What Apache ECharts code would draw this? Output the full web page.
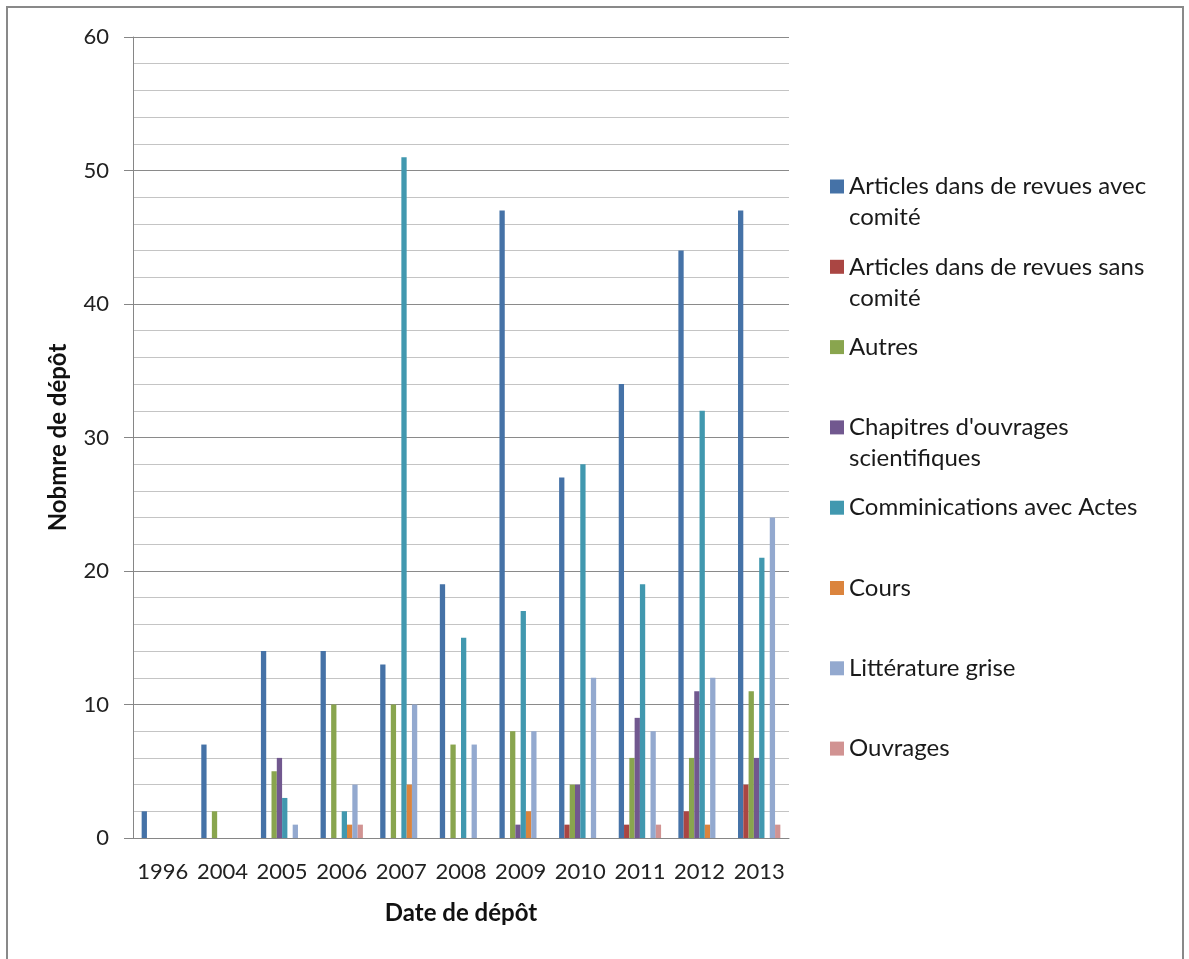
<!DOCTYPE html>
<html>
<head>
<meta charset="utf-8">
<script src="https://cdn.jsdelivr.net/npm/echarts@6/dist/echarts.min.js"></script>
<style>
  html, body { margin: 0; padding: 0; background: #fff; }
  #chart { width: 1189px; height: 959px; }
</style>
</head>
<body>
<div id="chart"></div>
<script>
// années de dépôt
var years = ['1996', '2004', '2005', '2006', '2007', '2008', '2009', '2010', '2011', '2012', '2013'];

// nombre de dépôts par type
var articlesAvecComite = [2, 7, 14, 14, 13, 19, 47, 27, 34, 44, 47];
var articlesSansComite = [0, 0, 0, 0, 0, 0, 0, 1, 1, 2, 4];
var autres            = [0, 2, 5, 10, 10, 7, 8, 4, 6, 6, 11];
var chapitres         = [0, 0, 6, 0, 0, 0, 1, 4, 9, 11, 6];
var communications    = [0, 0, 3, 2, 51, 15, 17, 28, 19, 32, 21];
var cours             = [0, 0, 0, 1, 4, 0, 2, 0, 0, 1, 0];
var litteratureGrise  = [0, 0, 1, 4, 10, 7, 8, 12, 8, 12, 24];
var ouvrages          = [0, 0, 0, 1, 0, 0, 0, 0, 1, 0, 1];

var seriesNames = [
    'Articles dans de revues avec comité',
    'Articles dans de revues sans comité',
    'Autres',
    "Chapitres d'ouvrages scientifiques",
    'Comminications avec Actes',
    'Cours',
    'Littérature grise',
    'Ouvrages'
];
// texte de légende (retour à la ligne comme dans Excel)
var legendText = [
    'Articles dans de revues avec\ncomité',
    'Articles dans de revues sans\ncomité',
    'Autres',
    "Chapitres d'ouvrages\nscientifiques",
    'Comminications avec Actes',
    'Cours',
    'Littérature grise',
    'Ouvrages'
];
var seriesData = [articlesAvecComite, articlesSansComite, autres, chapitres, communications, cours, litteratureGrise, ouvrages];
var colors = ['#4572A7', '#AA4643', '#89A54E', '#71588F', '#4198AF', '#DB843D', '#93A9CF', '#D19392'];

var font = 'Lato, "Open Sans", sans-serif';
var myChart = echarts.init(document.getElementById('chart'));

var series = [];
for (var i = 0; i < seriesNames.length; i++) {
    series.push({
        name: seriesNames[i],
        type: 'bar',
        data: seriesData[i],
        barGap: '0%',
        barCategoryGap: '29%',
        itemStyle: { color: colors[i] }
    });
}

var option = {
    animation: false,
    color: colors,
    textStyle: { fontFamily: font },
    graphic: [{
        type: 'rect',
        z: -10,
        shape: { x: 7, y: 7, width: 1176, height: 1000 },
        style: { fill: 'none', stroke: '#898989', lineWidth: 2 }
    }],
    grid: { left: 133, right: 400, top: 37, bottom: 121 },
    legend: {
        orient: 'vertical',
        left: 830,
        top: 140,
        padding: 0,
        icon: 'rect',
        itemWidth: 14,
        itemHeight: 14,
        itemGap: -12.7,
        data: seriesNames,
        formatter: function (name) {
            var t = legendText[seriesNames.indexOf(name)];
            // 3 lignes : la 1re ligne du texte centrée sur l'icône
            if (t.indexOf('\n') < 0) t = t + '\n ';
            return ' \n' + t;
        },
        textStyle: { fontFamily: font, fontSize: 24, lineHeight: 31, color: '#1a1a1a' }
    },
    xAxis: {
        type: 'category',
        data: years,
        name: 'Date de dépôt',
        nameLocation: 'middle',
        nameGap: 63,
        nameTextStyle: { fontFamily: font, fontSize: 24, fontWeight: 'bold', color: '#111' },
        axisLine: { lineStyle: { color: '#868686', width: 1 } },
        axisTick: { show: false },
        axisLabel: { fontFamily: font, fontSize: 22, color: '#222', margin: 23, interval: 0 }
    },
    yAxis: {
        type: 'value',
        min: 0,
        max: 60,
        interval: 10,
        name: 'Nobmre de dépôt',
        nameLocation: 'middle',
        nameGap: 63,
        nameTextStyle: { fontFamily: font, fontSize: 24, fontWeight: 'bold', color: '#111' },
        axisLine: { show: true, lineStyle: { color: '#868686', width: 1 } },
        axisTick: { show: true, length: 9, lineStyle: { color: '#868686' } },
        axisLabel: { fontFamily: font, fontSize: 22, color: '#222', margin: 24 },
        splitLine: { lineStyle: { color: '#8a8a8a', width: 1 } },
        minorTick: { show: false, splitNumber: 5 },
        minorSplitLine: { show: true, lineStyle: { color: '#c4c4c4', width: 1 } }
    },
    series: series
};

myChart.setOption(option);
</script>
</body>
</html>
